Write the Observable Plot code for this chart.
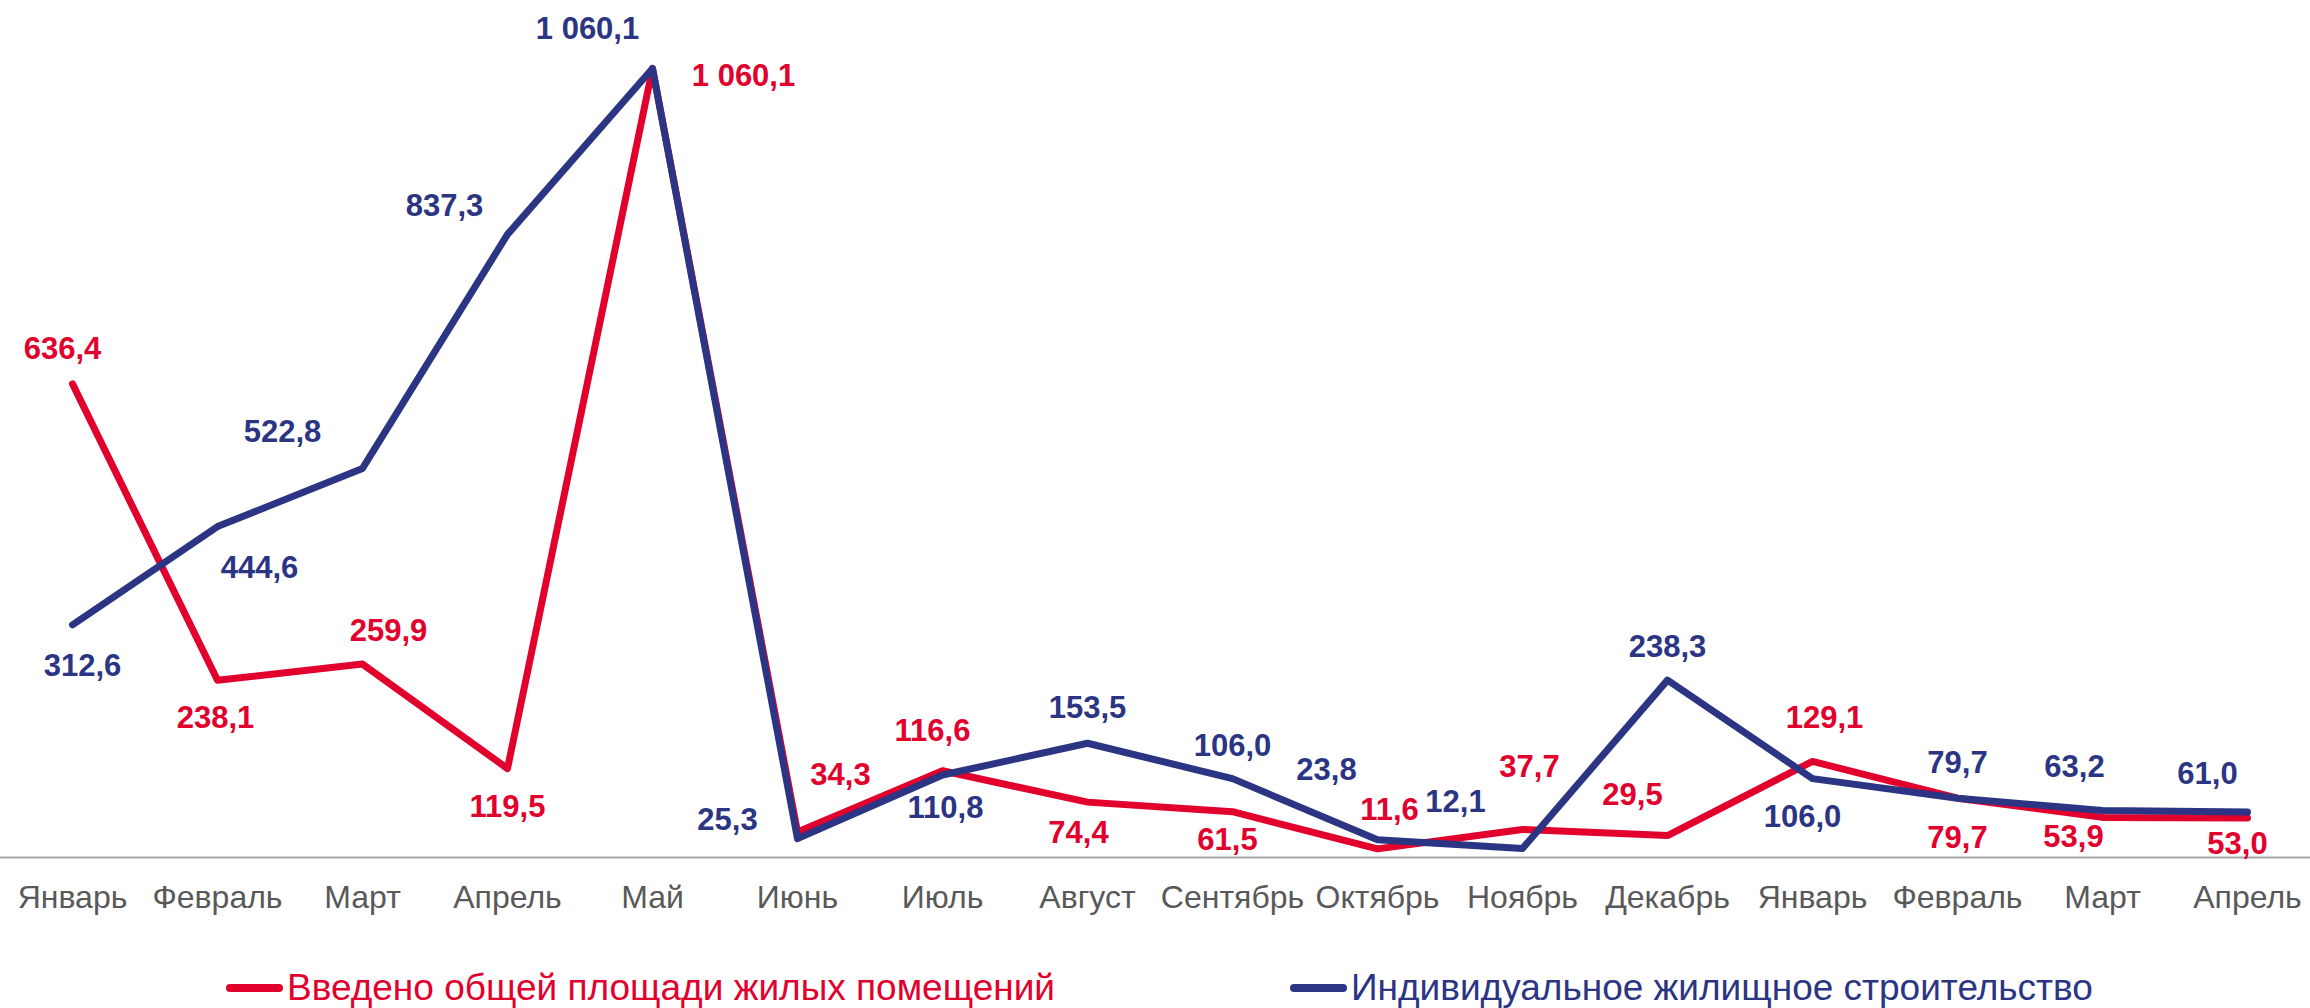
<!DOCTYPE html>
<html><head><meta charset="utf-8">
<script src="https://cdn.jsdelivr.net/npm/d3@7"></script>
<script src="https://cdn.jsdelivr.net/npm/@observablehq/plot@0.6"></script>
<style>
body{margin:0;background:#fff;font-family:"Liberation Sans",Arial,sans-serif;}
#chart{position:relative;width:2310px;height:1008px;overflow:hidden;background:#fff;}
.leg{position:absolute;top:966px;height:44px;display:flex;align-items:center;font-size:37px;line-height:44px;white-space:nowrap;}
.sw{display:inline-block;width:57px;height:8px;border-radius:4px;margin-right:4px;}
</style></head>
<body><div id="chart"></div>
<script>
const months = ["Январь","Февраль","Март","Апрель","Май","Июнь","Июль","Август","Сентябрь","Октябрь","Ноябрь","Декабрь","Январь","Февраль","Март","Апрель"];
const vvedeno = [636.4, 238.1, 259.9, 119.5, 1060.1, 34.3, 116.6, 74.4, 61.5, 11.6, 37.7, 29.5, 129.1, 79.7, 53.9, 53.0];
const izhs = [312.6, 444.6, 522.8, 837.3, 1060.1, 25.3, 110.8, 153.5, 106.0, 23.8, 12.1, 238.3, 106.0, 79.7, 63.2, 61.0];
const seriesNames = ["Введено общей площади жилых помещений", "Индивидуальное жилищное строительство"];

// label placement (style only): [dx, dy] in px
const redOff = [[-10,-35],[-2,38],[26,-33],[0,39],[91,8],[43,-57],[-10,-40],[-9,31],[-5,28],[12,-39],[7,-62],[-35,-40],[12,-43],[0,40],[-29,20],[-10,26]];
const blueOff = [[10,41],[42,41],[-80,-36],[-63,-28],[-65,-39],[-70,-19],[3,33],[0,-35],[0,-33],[-51,-70],[-67,-46],[0,-33],[-10,38],[0,-35],[-28,-43],[-40,-38]];

const RED = "#E2002D", BLUE = "#2B3583";
const idx = months.map((m, i) => i);
const fmt = v => { const [a, b] = v.toFixed(1).split("."); return a.replace(/\B(?=(\d{3})+(?!\d))/g, " ") + "," + b; };

const labels = (vals, off, color) => idx.map(i => Plot.text([i], {
  x: d => d, y: d => vals[d], text: d => fmt(vals[d]),
  dx: off[i][0], dy: off[i][1], fill: color, fontWeight: "bold", fontSize: 31, lineAnchor: "middle", textAnchor: "middle"
}));

const plot = Plot.plot({
  width: 2310, height: 940,
  marginTop: 68, marginBottom: 83, marginLeft: 0, marginRight: 0,
  style: {fontFamily: "'Liberation Sans', Arial, sans-serif", background: "white"},
  x: {type: "point", domain: idx, range: [66, 2252], padding: 0},
  y: {domain: [0, 1060.1], axis: null},
  marks: [
    Plot.ruleY([0], {stroke: "#a6a6a6", strokeWidth: 2}),
    Plot.axisX({tickSize: 0, tickPadding: 28, fontSize: 32, tickFormat: i => months[i], fill: "#595959"}),
    Plot.line(idx, {x: d => d, y: d => vvedeno[d], stroke: RED, strokeWidth: 7, strokeLinecap: "round", strokeLinejoin: "round"}),
    Plot.line(idx, {x: d => d, y: d => izhs[d], stroke: BLUE, strokeWidth: 7, strokeLinecap: "round", strokeLinejoin: "round"}),
    ...labels(vvedeno, redOff, RED),
    ...labels(izhs, blueOff, BLUE)
  ]
});
const chart = document.getElementById("chart");
chart.appendChild(plot);
[[seriesNames[0], RED, 226], [seriesNames[1], BLUE, 1290]].forEach(([name, c, left]) => {
  const d = document.createElement("div");
  d.className = "leg"; d.style.left = left + "px"; d.style.color = c;
  const s = document.createElement("span"); s.className = "sw"; s.style.background = c;
  d.appendChild(s); d.appendChild(document.createTextNode(name));
  chart.appendChild(d);
});
</script></body></html>
